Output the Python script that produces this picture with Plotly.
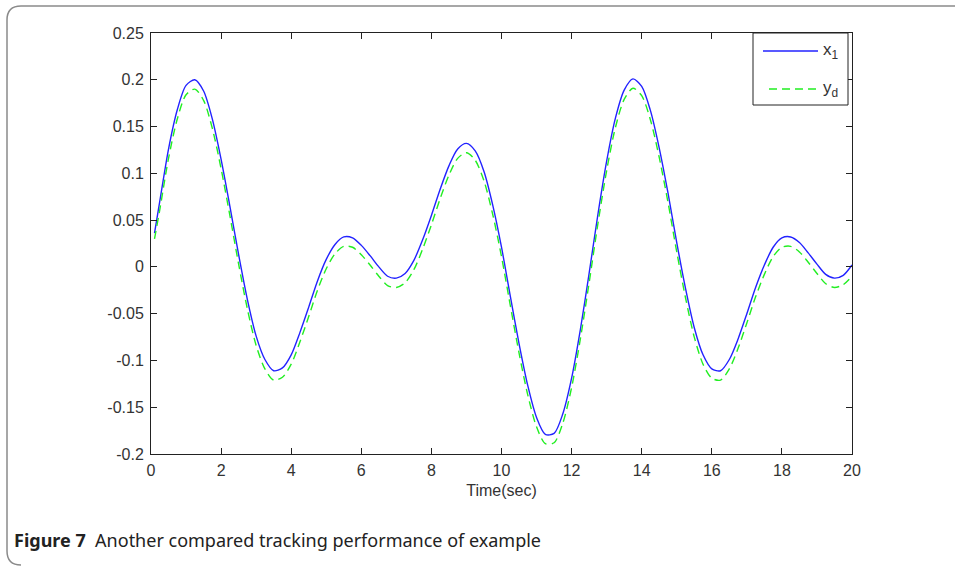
import plotly.graph_objects as go

# Sample times (s)
time_s = [0.1, 0.25, 0.5, 0.75, 1.0, 1.25, 1.5, 1.75, 2.0, 2.25, 2.5, 2.75,
          3.0, 3.25, 3.5, 3.75, 4.0, 4.25, 4.5, 4.75, 5.0, 5.25, 5.5, 5.75,
          6.0, 6.25, 6.5, 6.75, 7.0, 7.25, 7.5, 7.75, 8.0, 8.25, 8.5, 8.75,
          9.0, 9.25, 9.5, 9.75, 10.0, 10.25, 10.5, 10.75, 11.0, 11.25, 11.5, 11.75,
          12.0, 12.25, 12.5, 12.75, 13.0, 13.25, 13.5, 13.75, 14.0, 14.25, 14.5, 14.75,
          15.0, 15.25, 15.5, 15.75, 16.0, 16.25, 16.5, 16.75, 17.0, 17.25, 17.5, 17.75,
          18.0, 18.25, 18.5, 18.75, 19.0, 19.25, 19.5, 19.75, 20.0]

# System state x1
x1 = [0.036, 0.070, 0.126, 0.168, 0.194, 0.200, 0.188, 0.158, 0.115, 0.065, 0.013, -0.035,
      -0.074, -0.099, -0.111, -0.108, -0.094, -0.070, -0.043, -0.015, 0.008, 0.024, 0.032, 0.031,
      0.023, 0.012, 0.000, -0.010, -0.012, -0.007, 0.007, 0.029, 0.055, 0.083, 0.108, 0.126,
      0.132, 0.124, 0.102, 0.066, 0.021, -0.031, -0.082, -0.127, -0.161, -0.179, -0.178, -0.157,
      -0.119, -0.067, -0.007, 0.056, 0.113, 0.159, 0.189, 0.201, 0.193, 0.167, 0.127, 0.079,
      0.026, -0.023, -0.065, -0.094, -0.109, -0.111, -0.099, -0.077, -0.050, -0.022, 0.002, 0.021,
      0.031, 0.032, 0.026, 0.015, 0.003, -0.008, -0.012, -0.009, 0.002]

# Desired trajectory y_d
yd = [0.030, 0.061, 0.116, 0.158, 0.184, 0.190, 0.178, 0.148, 0.105, 0.055, 0.003, -0.045,
      -0.084, -0.109, -0.121, -0.118, -0.104, -0.080, -0.053, -0.025, -0.002, 0.014, 0.022, 0.021,
      0.013, 0.002, -0.010, -0.020, -0.022, -0.017, -0.003, 0.019, 0.045, 0.073, 0.098, 0.116,
      0.122, 0.114, 0.092, 0.056, 0.011, -0.041, -0.092, -0.137, -0.171, -0.189, -0.188, -0.167,
      -0.129, -0.077, -0.017, 0.046, 0.103, 0.149, 0.179, 0.191, 0.183, 0.157, 0.117, 0.069,
      0.016, -0.033, -0.075, -0.104, -0.119, -0.121, -0.109, -0.087, -0.060, -0.032, -0.008, 0.011,
      0.021, 0.022, 0.016, 0.005, -0.007, -0.018, -0.022, -0.019, -0.010]

x_ticks = [0, 2, 4, 6, 8, 10, 12, 14, 16, 18, 20]
y_ticks = [-0.2, -0.15, -0.1, -0.05, 0, 0.05, 0.1, 0.15, 0.2, 0.25]
y_tick_text = ["-0.2", "-0.15", "-0.1", "-0.05", "0", "0.05", "0.1", "0.15", "0.2", "0.25"]

BLUE = "#2222ff"
GREEN = "#22ee22"

fig = go.Figure()
fig.add_trace(go.Scatter(x=time_s, y=x1, mode="lines", name="x<sub>1</sub>",
                         line=dict(color=BLUE, width=1.4, shape="spline", smoothing=0.8)))
fig.add_trace(go.Scatter(x=time_s, y=yd, mode="lines", name="y<sub>d</sub>",
                         line=dict(color=GREEN, width=1.4, dash="8px,5px", shape="spline", smoothing=0.8)))

# plot-area geometry in pixels
L, R, T, B = 151, 852, 33, 454
W, H = R - L, B - T


def px(xp):
    return (xp - L) / W


def py(yp):
    return (B - yp) / H


tick_font = dict(family="Liberation Sans, Arial, sans-serif", size=16, color="#333333")

axis_common = dict(showgrid=False, zeroline=False, showline=True, linecolor="#222222",
                   linewidth=1, mirror="ticks", ticks="inside", ticklen=6,
                   tickcolor="#222222", tickfont=tick_font)

fig.update_xaxes(range=[0, 20], tickvals=x_ticks, ticktext=[str(v) for v in x_ticks],
                 ticklabelstandoff=2,
                 title=dict(text="Time(sec)", font=tick_font, standoff=6), **axis_common)
fig.update_yaxes(range=[-0.2, 0.25], tickvals=y_ticks, ticktext=y_tick_text,
                 ticklabelstandoff=3, **axis_common)

shapes = []
# legend box
shapes.append(dict(type="rect", xref="paper", yref="paper",
                   x0=px(753), x1=px(848), y0=py(105), y1=py(33),
                   line=dict(color="#222222", width=1), fillcolor="white", layer="above"))
shapes.append(dict(type="line", xref="paper", yref="paper",
                   x0=px(763), x1=px(818), y0=py(51), y1=py(51),
                   line=dict(color=BLUE, width=1.4), layer="above"))
shapes.append(dict(type="line", xref="paper", yref="paper",
                   x0=px(769), x1=px(818), y0=py(89), y1=py(89),
                   line=dict(color=GREEN, width=1.4, dash="8px,5px"), layer="above"))
# page frame with rounded left corners
frame = (f"M {px(955)},{py(6)} L {px(21)},{py(6)} Q {px(7)},{py(6)} {px(7)},{py(20)} "
         f"L {px(7)},{py(551)} Q {px(7)},{py(565)} {px(21)},{py(565)}")
shapes.append(dict(type="path", xref="paper", yref="paper", path=frame,
                   line=dict(color="#8a8a8a", width=1.5)))

legend_font = dict(family="Liberation Sans, Arial, sans-serif", size=17, color="#333333")
annotations = [
    dict(xref="paper", yref="paper", x=px(821), y=py(51), xanchor="left", yanchor="middle",
         text="x<sub>1</sub>", showarrow=False, font=legend_font),
    dict(xref="paper", yref="paper", x=px(821), y=py(89), xanchor="left", yanchor="middle",
         text="y<sub>d</sub>", showarrow=False, font=legend_font),
    dict(xref="paper", yref="paper", x=px(12), y=py(540), xanchor="left", yanchor="middle",
         text="<b>Figure 7</b>  Another compared tracking performance of example",
         showarrow=False, font=dict(family="Noto Sans, Open Sans, sans-serif", size=18, color="#222222")),
]

fig.update_layout(width=955, height=566, margin=dict(l=L, r=955 - R, t=T, b=566 - B),
                  paper_bgcolor="white", plot_bgcolor="white", showlegend=False,
                  shapes=shapes, annotations=annotations)

fig.write_html("out.html")
